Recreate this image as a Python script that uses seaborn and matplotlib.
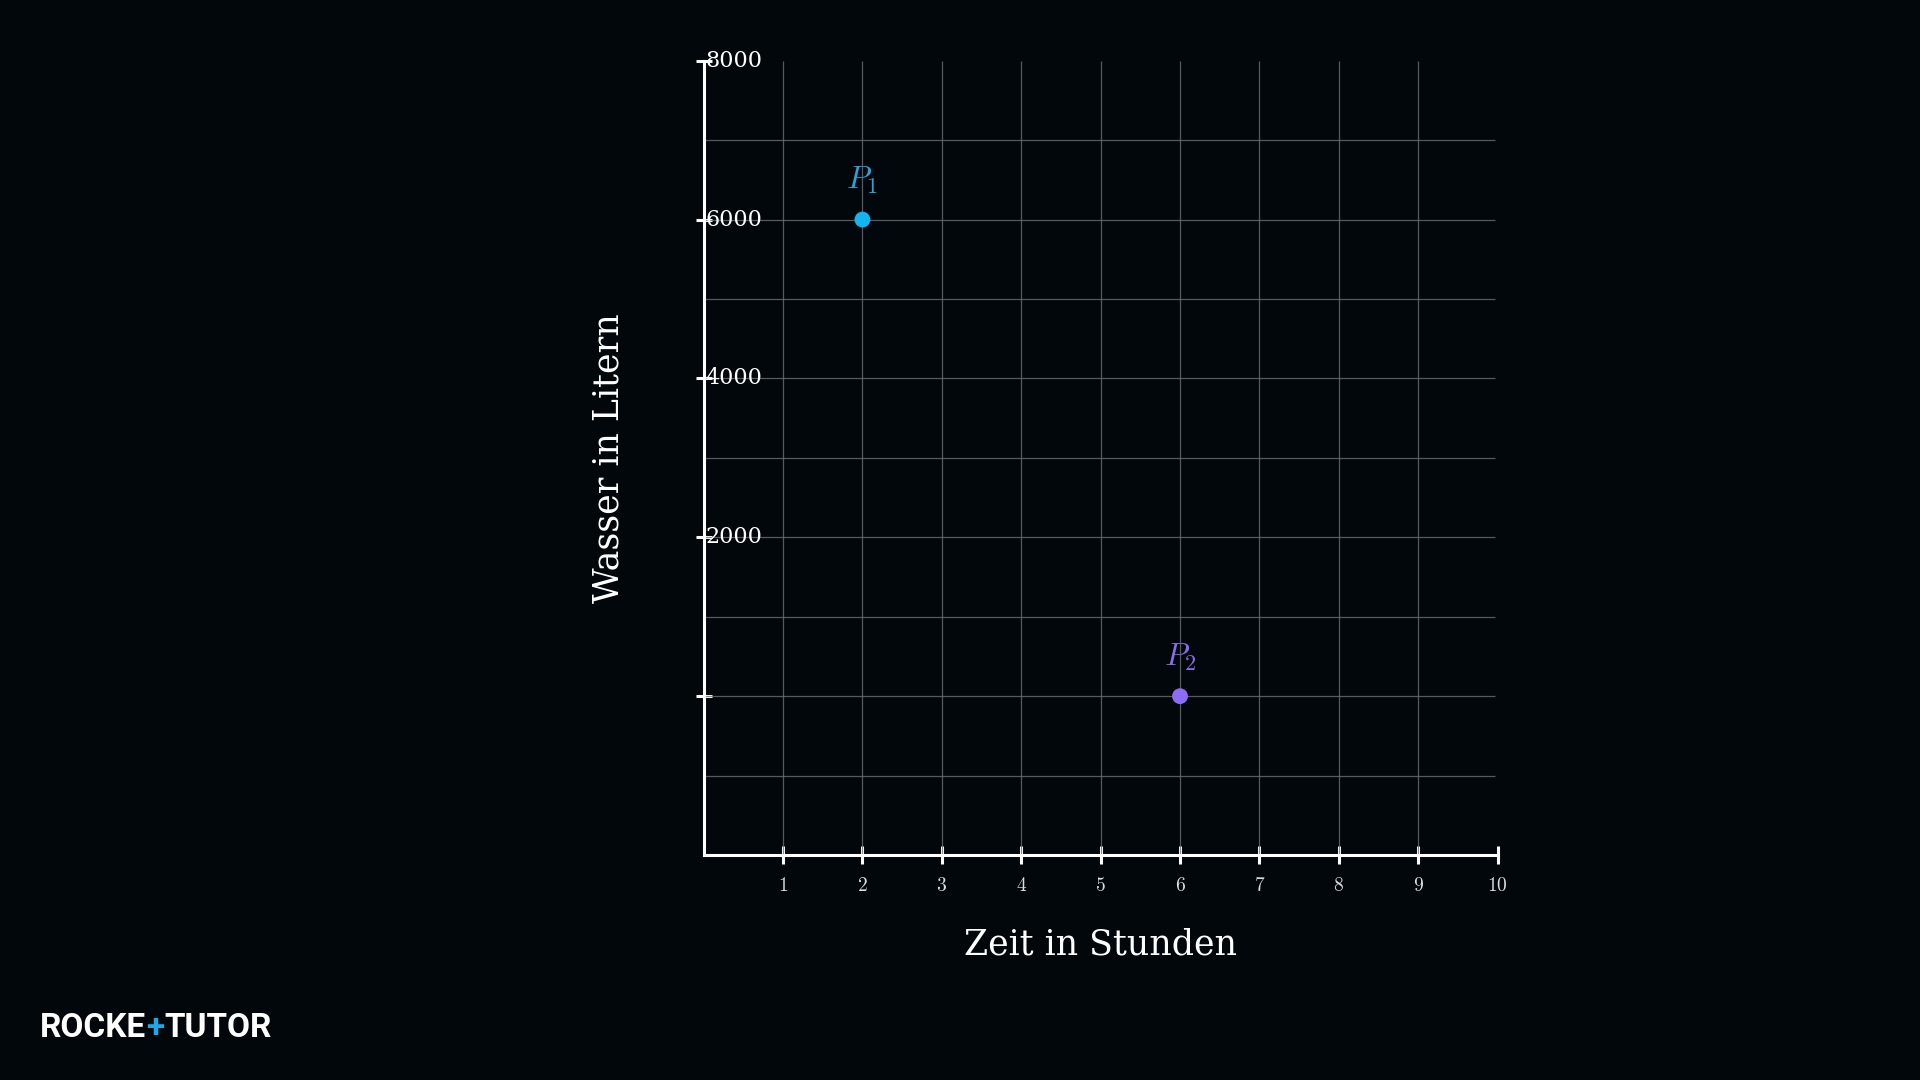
import numpy as np
import pandas as pd
import matplotlib.pyplot as plt
import matplotlib.transforms as mtransforms
import seaborn as sns

# data
point_names = ["$P_1$", "$P_2$"]
hours = [2, 6]
liters = [6000, 0]
point_colors = ["#14b4f0", "#8c6cf4"]
label_colors = ["#2aa2da", "#8a6be6"]

x_ticks = [1, 2, 3, 4, 5, 6, 7, 8, 9, 10]
y_ticks = [0, 2000, 4000, 6000, 8000]
y_tick_labels = ["", "2000", "4000", "6000", "8000"]
grid_x = [1, 2, 3, 4, 5, 6, 7, 8, 9]
grid_y = [-1000, 0, 1000, 2000, 3000, 4000, 5000, 6000, 7000]

bg = "#02070b"

sns.set_theme(style="dark")
plt.rcParams["font.family"] = ["DejaVu Serif"]
plt.rcParams["mathtext.fontset"] = "cm"

df = pd.DataFrame({"Zeit": hours, "Wasser": liters, "Punkt": point_names})

fig = plt.figure(figsize=(19.2, 10.8), dpi=100, facecolor=bg)
ax = fig.add_axes([0.3665, 0.2083, 0.4135, 0.7355])
ax.set_facecolor(bg)

# grid
ax.vlines(grid_x, -2000, 8000, color="#6a7075", linewidth=0.9, alpha=0.8, zorder=1)
ax.hlines(grid_y, 0, 9.97, color="#6a7075", linewidth=0.9, alpha=0.8, zorder=1)

# points
sns.scatterplot(
    data=df, x="Zeit", y="Wasser", hue="Punkt", palette=point_colors,
    s=130, linewidth=0, legend=False, ax=ax, zorder=5,
)
for name, x, y, c in zip(point_names, hours, liters, label_colors):
    ax.annotate(name, (x, y), xytext=(0, 28), textcoords="offset points",
                ha="center", va="center", color=c, fontsize=23)

ax.set_xlim(0, 10)
ax.set_ylim(-2000, 8000)

# axes styling
sns.despine(ax=ax, top=True, right=True)
for side in ["left", "bottom"]:
    ax.spines[side].set_color("white")
    ax.spines[side].set_linewidth(2.2)
    ax.spines[side].set_zorder(6)

ax.set_xticks(x_ticks)
ax.set_xticklabels([f"${t}$" for t in x_ticks])
ax.tick_params(axis="x", direction="inout", length=13, width=2.2, color="white",
               labelcolor="#dcdcdc", labelsize=14, pad=9, bottom=True)
ax.set_yticks(y_ticks)
ax.set_yticklabels([])
ax.tick_params(axis="y", direction="inout", length=12, width=2.2, color="white", left=True)
for t in ax.get_xticklines() + ax.get_yticklines():
    t.set_clip_on(False)
    t.set_zorder(7)

# y tick labels drawn to the right of the spine
offs = mtransforms.offset_copy(ax.transData, fig=fig, x=2, y=0, units="dots")
for v, lab in zip(y_ticks, y_tick_labels):
    ax.text(0, v, lab, transform=offs, ha="left", va="center",
            color="white", fontsize=16, zorder=8)

ax.set_xlabel("Zeit in Stunden", fontsize=25, color="white", va="center")
ax.xaxis.set_label_coords(0.5, -0.112)
ax.set_ylabel("Wasser in Litern", fontsize=25, color="white", va="center")
ax.yaxis.set_label_coords(-0.1205, 0.5)

# logo
t1 = fig.text(40 / 1920, 1 - 1044 / 1080, "ROCKE", family="Roboto", weight="bold",
              fontsize=24, color="white", va="bottom", ha="left")
a1 = ax.annotate("+", xy=(1, 0), xycoords=t1, va="bottom", ha="left",
                 family="Roboto", weight="bold", fontsize=24, color="#1fa8e6",
                 annotation_clip=False)
a2 = ax.annotate("TUTOR", xy=(1, 0), xycoords=a1, va="bottom", ha="left",
                 family="Roboto", weight="bold", fontsize=24, color="white",
                 annotation_clip=False)

plt.savefig("out.png", dpi=100, facecolor=bg)
